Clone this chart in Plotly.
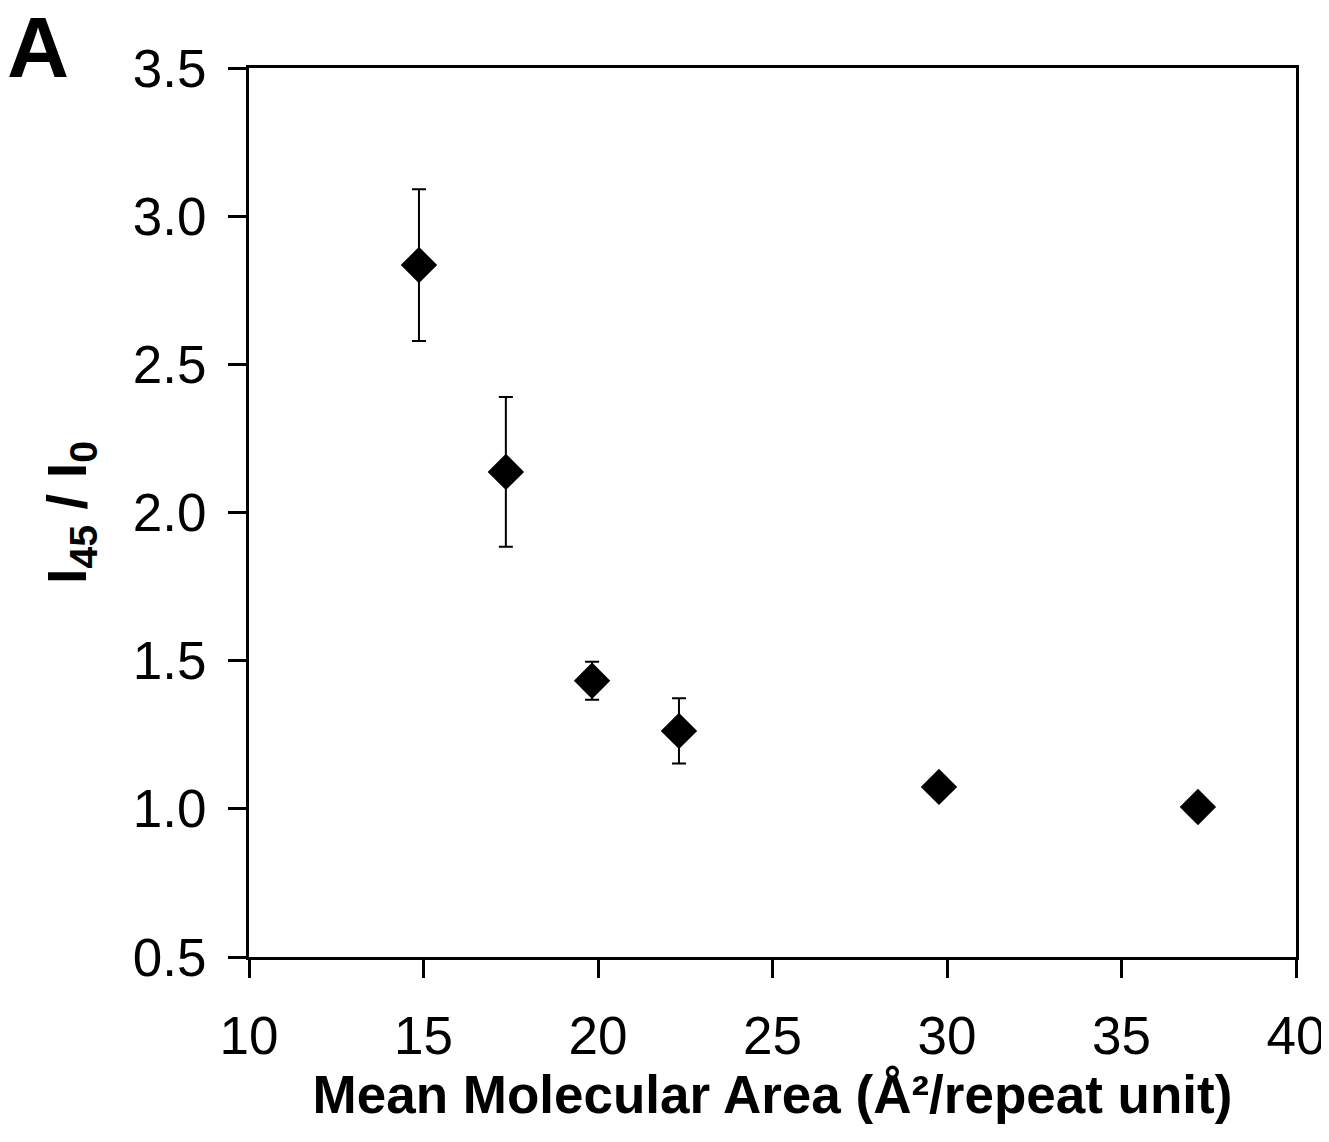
import plotly.graph_objects as go

area = [14.87, 17.36, 19.83, 22.32, 29.77, 37.19]
ratio = [2.835, 2.137, 1.432, 1.263, 1.074, 1.006]
err = [0.256, 0.253, 0.064, 0.110, 0, 0]

x_ticks = [10, 15, 20, 25, 30, 35, 40]
y_ticks = [0.5, 1.0, 1.5, 2.0, 2.5, 3.0, 3.5]

fig = go.Figure(go.Scatter(
    x=area, y=ratio, mode='markers',
    marker=dict(symbol='diamond', size=28, color='black'),
    error_y=dict(type='data', array=err, visible=True,
                 color='black', thickness=2, width=7),
    showlegend=False))

axis_common = dict(showline=True, linecolor='black', linewidth=3,
                   mirror=True, ticks='outside', ticklen=18,
                   tickwidth=3, tickcolor='black', showgrid=False,
                   zeroline=False, automargin=False,
                   tickfont=dict(family='Liberation Sans', size=53, color='black'))

fig.update_xaxes(range=[10, 40], tickvals=x_ticks,
                 ticktext=[str(v) for v in x_ticks],
                 ticklabelstandoff=12,
                 title=dict(text='Mean Molecular Area (Å²/repeat unit)',
                            font=dict(family='Liberation Sans', size=53,
                                      color='black', weight='bold'),
                            standoff=12),
                 **axis_common)
fig.update_yaxes(range=[0.5, 3.5], tickvals=y_ticks,
                 ticktext=['%.1f' % v for v in y_ticks],
                 ticklabelstandoff=11,
                 title=dict(text='I<sub>45</sub> / I<sub>0</sub>',
                            font=dict(family='Liberation Sans', size=56,
                                      color='black', weight='bold'),
                            standoff=29),
                 **axis_common)

fig.add_annotation(text='A', xref='paper', yref='paper',
                   x=-0.233, y=1.024, xanchor='left', yanchor='middle',
                   showarrow=False,
                   font=dict(family='Liberation Sans', size=86,
                             color='black', weight='bold'))

fig.update_layout(width=1329, height=1142,
                  margin=dict(l=241, r=41, t=60, b=193),
                  plot_bgcolor='white', paper_bgcolor='white')

fig.write_html('out.html')
